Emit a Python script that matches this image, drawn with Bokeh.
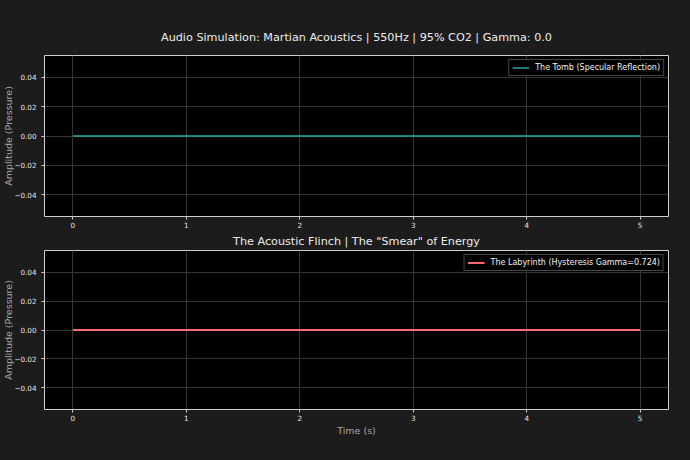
from bokeh.plotting import figure
from bokeh.layouts import column
from bokeh.models import Range1d, FixedTicker, Legend, LegendItem
from bokeh.embed import file_html
from bokeh.resources import INLINE

# ---- data ----
time_s = [0.0, 1.0, 2.0, 3.0, 4.0, 5.0]
tomb_amplitude = [0.0, 0.0, 0.0, 0.0, 0.0, 0.0]
labyrinth_amplitude = [0.0, 0.0, 0.0, 0.0, 0.0, 0.0]
x_ticks = [0, 1, 2, 3, 4, 5]
y_ticks = [-0.04, -0.02, 0.0, 0.02, 0.04]
y_tick_labels = ["\u22120.04", "\u22120.02", "0.00", "0.02", "0.04"]
main_title = "Audio Simulation: Martian Acoustics | 550Hz | 95% CO2 | Gamma: 0.0"
sub_title = 'The Acoustic Flinch | The "Smear" of Energy'
tomb_label = "The Tomb (Specular Reflection)"
labyrinth_label = "The Labyrinth (Hysteresis Gamma=0.724)"
y_label = "Amplitude (Pressure)"
x_label = "Time (s)"

FONT = "DejaVu Sans"
FIG_BG = "#1c1c1c"
PLOT_BG = "#000000"
FRAME = "#cfcfcf"
GRID = "#363636"


def style(p, show_xlabel):
    p.background_fill_color = PLOT_BG
    p.border_fill_color = FIG_BG
    p.outline_line_color = FRAME
    p.outline_line_width = 1
    p.title.text_font = FONT
    p.title.text_font_size = "11.2px"
    p.title.text_font_style = "normal"
    p.title.text_color = "#ececec"
    p.title.align = "center"
    for g in (p.xgrid, p.ygrid):
        g.grid_line_color = GRID
        g.grid_line_width = 1
    p.xaxis.ticker = FixedTicker(ticks=x_ticks)
    p.yaxis.ticker = FixedTicker(ticks=y_ticks)
    p.yaxis.major_label_overrides = {t: l for t, l in zip(y_ticks, y_tick_labels)}
    for ax in (p.xaxis, p.yaxis):
        ax.axis_line_color = None
        ax.major_tick_line_color = FRAME
        ax.major_tick_out = 3
        ax.major_tick_in = 0
        ax.minor_tick_line_color = None
        ax.major_label_text_font = FONT
        ax.major_label_text_font_size = "7.2px"
        ax.major_label_text_color = "#e6e6e6"
        ax.axis_label_text_font = FONT
        ax.axis_label_text_font_size = "9.5px"
        ax.axis_label_text_font_style = "normal"
        ax.axis_label_text_color = "#a6a6a6"
    p.xaxis.major_label_standoff = 2
    p.yaxis.major_label_standoff = 5
    p.yaxis.axis_label = y_label
    p.yaxis.axis_label_standoff = -3
    if show_xlabel:
        p.xaxis.axis_label = x_label
        p.xaxis.axis_label_standoff = 1


def add_legend(p, renderer, label):
    leg = Legend(items=[LegendItem(label=label, renderers=[renderer])],
                 location="top_right")
    leg.margin = 4
    leg.padding = 3
    leg.spacing = 0
    leg.label_standoff = 6
    leg.glyph_width = 17
    leg.glyph_height = 9
    leg.label_height = 9
    leg.label_text_font = FONT
    leg.label_text_font_size = "8px"
    leg.label_text_color = "#f2f2f2"
    leg.background_fill_color = "#000000"
    leg.background_fill_alpha = 1.0
    leg.border_line_color = "#8c8c8c"
    leg.border_line_width = 1
    p.add_layout(leg)


W = 690
p1 = figure(width=W, height=230, output_backend="svg", toolbar_location=None,
            x_range=Range1d(-0.25, 5.25), y_range=Range1d(-0.055, 0.055),
            title=main_title, min_border_left=44, min_border_right=22,
            min_border_top=55, min_border_bottom=14)
style(p1, False)
p1.title.standoff = 23
r1 = p1.line(time_s, tomb_amplitude, line_color="#22a9a9", line_width=1.5)
add_legend(p1, r1, tomb_label)

p2 = figure(width=W, height=230, output_backend="svg", toolbar_location=None,
            x_range=Range1d(-0.25, 5.25), y_range=Range1d(-0.055, 0.055),
            title=sub_title, min_border_left=44, min_border_right=22,
            min_border_top=18, min_border_bottom=51)
style(p2, True)
p2.title.standoff = 5
r2 = p2.line(time_s, labyrinth_amplitude, line_color="#ff6b6b", line_width=2)
add_legend(p2, r2, labyrinth_label)

layout = column(p1, p2, spacing=0, styles={"background-color": FIG_BG})

html = file_html(layout, INLINE)
html = html.replace("</head>",
                    "<style>html, body { background-color: %s; }</style></head>" % FIG_BG, 1)
open("out.html", "w").write(html)
